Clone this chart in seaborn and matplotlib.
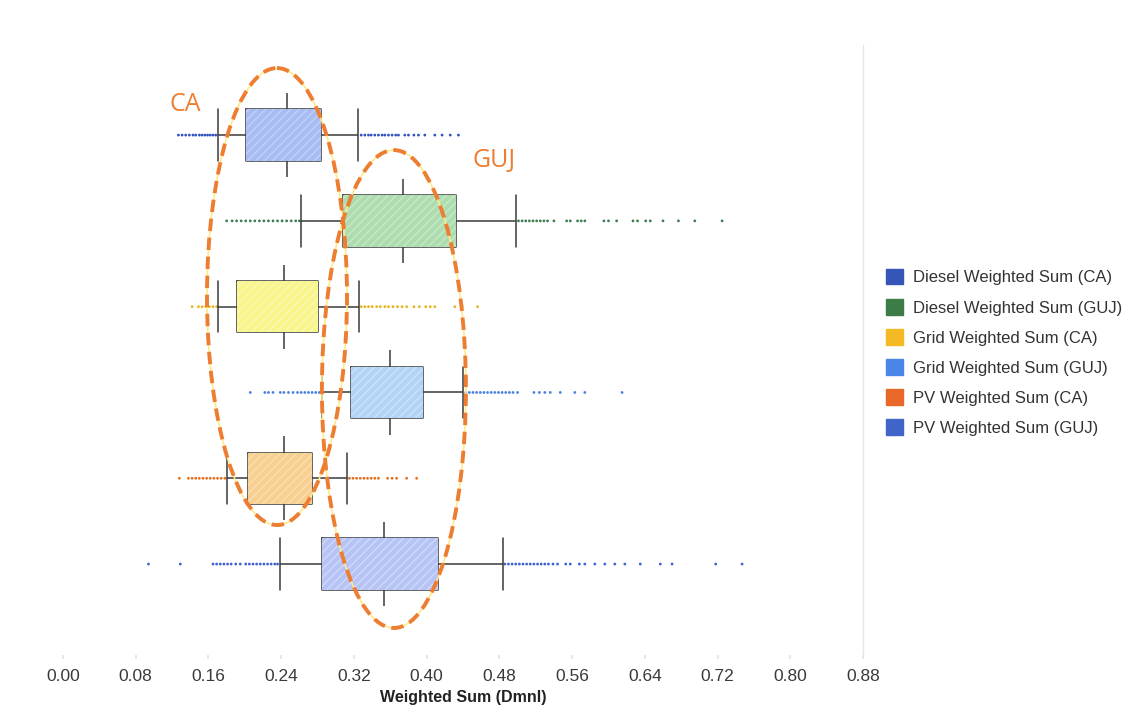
import numpy as np
import pandas as pd
import matplotlib
matplotlib.use("Agg")
import matplotlib.pyplot as plt
from matplotlib.patches import Ellipse, Patch
import seaborn as sns

# ---------------- data ----------------
series = [
    "Diesel Weighted Sum (CA)",
    "Diesel Weighted Sum (GUJ)",
    "Grid Weighted Sum (CA)",
    "Grid Weighted Sum (GUJ)",
    "PV Weighted Sum (CA)",
    "PV Weighted Sum (GUJ)",
]
whisker_low = [0.171, 0.262, 0.171, 0.285, 0.180, 0.239]
q1 = [0.201, 0.308, 0.191, 0.317, 0.204, 0.285]
median = [0.246, 0.374, 0.243, 0.360, 0.243, 0.353]
q3 = [0.284, 0.432, 0.281, 0.396, 0.274, 0.413]
whisker_high = [0.325, 0.498, 0.326, 0.440, 0.312, 0.484]

out_diesel_ca = [0.127, 0.131, 0.135, 0.139, 0.143, 0.146, 0.150, 0.153, 0.156, 0.159,
                 0.162, 0.165, 0.168,
                 0.328, 0.332, 0.336, 0.339, 0.343, 0.347, 0.351, 0.354, 0.358, 0.362,
                 0.366, 0.369, 0.376, 0.380, 0.386, 0.391, 0.398, 0.409, 0.417, 0.426, 0.435]
out_diesel_guj = [0.180, 0.186, 0.191, 0.196, 0.201, 0.206, 0.211, 0.216, 0.221, 0.226,
                  0.231, 0.236, 0.241, 0.246, 0.251, 0.256, 0.260,
                  0.501, 0.505, 0.509, 0.513, 0.517, 0.521, 0.525, 0.529, 0.533, 0.540,
                  0.554, 0.558, 0.566, 0.570, 0.574, 0.595, 0.600, 0.609, 0.627, 0.632,
                  0.641, 0.646, 0.660, 0.677, 0.695, 0.725]
out_grid_ca = [0.142, 0.149, 0.153, 0.157, 0.161, 0.165, 0.169,
               0.328, 0.332, 0.336, 0.340, 0.345, 0.349, 0.354, 0.358, 0.363, 0.368,
               0.373, 0.378, 0.386, 0.392, 0.399, 0.404, 0.409, 0.431, 0.439, 0.456]
out_grid_guj = [0.206, 0.222, 0.226, 0.231, 0.239, 0.243, 0.248, 0.253, 0.258, 0.262,
                0.266, 0.270, 0.274, 0.278, 0.282,
                0.443, 0.447, 0.451, 0.455, 0.459, 0.463, 0.467, 0.471, 0.475, 0.479,
                0.483, 0.487, 0.491, 0.495, 0.500, 0.518, 0.524, 0.530, 0.536, 0.547,
                0.563, 0.574, 0.615]
out_pv_ca = [0.128, 0.138, 0.142, 0.146, 0.150, 0.154, 0.158, 0.162, 0.166, 0.170,
             0.174, 0.178,
             0.315, 0.319, 0.323, 0.327, 0.331, 0.335, 0.339, 0.343, 0.347, 0.357,
             0.362, 0.367, 0.378, 0.389]
out_pv_guj = [0.094, 0.129, 0.165, 0.169, 0.173, 0.177, 0.181, 0.185, 0.190, 0.195,
              0.201, 0.205, 0.209, 0.213, 0.217, 0.221, 0.225, 0.229, 0.233, 0.236,
              0.486, 0.490, 0.494, 0.498, 0.502, 0.506, 0.510, 0.514, 0.518, 0.522,
              0.526, 0.530, 0.534, 0.539, 0.544, 0.553, 0.558, 0.568, 0.574, 0.585,
              0.596, 0.607, 0.618, 0.635, 0.657, 0.670, 0.718, 0.747]
outliers = [out_diesel_ca, out_diesel_guj, out_grid_ca, out_grid_guj, out_pv_ca, out_pv_guj]

x_ticks = [0.00, 0.08, 0.16, 0.24, 0.32, 0.40, 0.48, 0.56, 0.64, 0.72, 0.80, 0.88]

# ---------------- styles ----------------
fill_colors = ["#a6bcf2", "#addcaf", "#f8f58a", "#b0d3f6", "#f7cf90", "#b6c4f5"]
hatch_colors = ["#c3d2f8", "#cbe9cb", "#fbf9bd", "#cfe4fa", "#fae0b8", "#d2dbf9"]
dot_colors = ["#3152c0", "#3f7d52", "#e8b41e", "#4a80e0", "#e2701f", "#3f62d0"]
legend_colors = ["#3555b8", "#3c7c46", "#f4b923", "#4a86e8", "#e8682a", "#4064c8"]
line_color = "#3a3a3a"
orange = "#ed7d31"

sns.set_theme(style="white")
plt.rcParams["font.family"] = ["Liberation Sans", "DejaVu Sans"]
plt.rcParams["hatch.linewidth"] = 0.9

box_df = pd.DataFrame({
    "series": np.repeat(series, 5),
    "value": np.ravel(np.column_stack([whisker_low, q1, median, q3, whisker_high])),
})
out_df = pd.DataFrame({
    "series": np.concatenate([[s] * len(o) for s, o in zip(series, outliers)]),
    "value": np.concatenate(outliers),
})

fig = plt.figure(figsize=(11.46, 7.07), dpi=100)
ax = fig.add_axes([63 / 1146, 52 / 707, 800 / 1146, 610 / 707])

# outlier dots
sns.stripplot(data=out_df, x="value", y="series", hue="series", order=series,
              hue_order=series, palette=dot_colors, jitter=False, size=2.0,
              linewidth=0, legend=False, ax=ax, zorder=2)

# hatched box fill
sns.boxplot(data=box_df, x="value", y="series", hue="series", order=series,
            hue_order=series, palette=fill_colors, saturation=1, width=0.6,
            whis=(0, 100), linewidth=0, showfliers=False, showcaps=False,
            whiskerprops={"visible": False}, medianprops={"visible": False},
            legend=False, ax=ax)
for patch, hc in zip(ax.patches, hatch_colors):
    patch.set_hatch("////")
    patch.set_edgecolor(hc)
    patch.set_linewidth(0)
    patch.set_zorder(3)

# outlines, whiskers and caps
sns.boxplot(data=box_df, x="value", y="series", order=series, color=line_color,
            fill=False, width=0.6, whis=(0, 100), linewidth=1.1, showfliers=False,
            capwidths=0.6, medianprops={"visible": False}, ax=ax)

# long median lines
sns.boxplot(data=box_df, x="value", y="series", order=series, color=line_color,
            fill=False, width=0.98, whis=(0, 100), linewidth=1.1, showfliers=False,
            showcaps=False, boxprops={"visible": False},
            whiskerprops={"visible": False}, ax=ax)

# annotation ellipses
for (cx, cy, w, h) in [(0.2354, 1.882, 0.154, 5.326), (0.364, 2.96, 0.1584, 5.57)]:
    ax.add_patch(Ellipse((cx, cy), w, h, fill=False, edgecolor="#ffe98a",
                         linewidth=1.2, zorder=5, clip_on=False))
    ax.add_patch(Ellipse((cx, cy), w, h, fill=False, edgecolor=orange,
                         linewidth=2.8, linestyle=(0, (3.2, 1.7)), zorder=6,
                         clip_on=False))
ax.text(0.135, -0.36, "CA", color=orange, fontsize=18, family=["Open Sans"],
        ha="center", va="center", zorder=7)
ax.text(0.474, 0.30, "GUJ", color=orange, fontsize=18, family=["Open Sans"],
        ha="center", va="center", zorder=7)

# axes
ax.set_xlim(0, 0.88)
ax.set_ylim(6.06, -1.05)
ax.set_xticks(x_ticks)
ax.set_xticklabels([f"{t:.2f}" for t in x_ticks], fontsize=12.5, color="#3a3a3a")
ax.set_yticks([])
ax.set_ylabel("")
ax.set_xlabel("Weighted Sum (Dmnl)", fontsize=11.5, fontweight="bold",
              color="#222222", labelpad=4.5)
ax.tick_params(axis="x", length=3, color="#e4e4e4", pad=7, bottom=True)
for side in ["left", "top", "bottom"]:
    ax.spines[side].set_visible(False)
ax.spines["right"].set_color("#e6e6ea")
ax.spines["right"].set_linewidth(1.0)
ax.grid(False)

# legend
handles = [Patch(facecolor=c, edgecolor=c) for c in legend_colors]
fig.legend(handles, series, loc="upper left",
           bbox_to_anchor=(886 / 1146, 1 - 269 / 707), frameon=False,
           fontsize=12, handlelength=1.05, handleheight=1.05, handletextpad=0.6,
           labelspacing=0.82, borderpad=0, borderaxespad=0, labelcolor="#333333")

fig.savefig("out.png", dpi=100)
